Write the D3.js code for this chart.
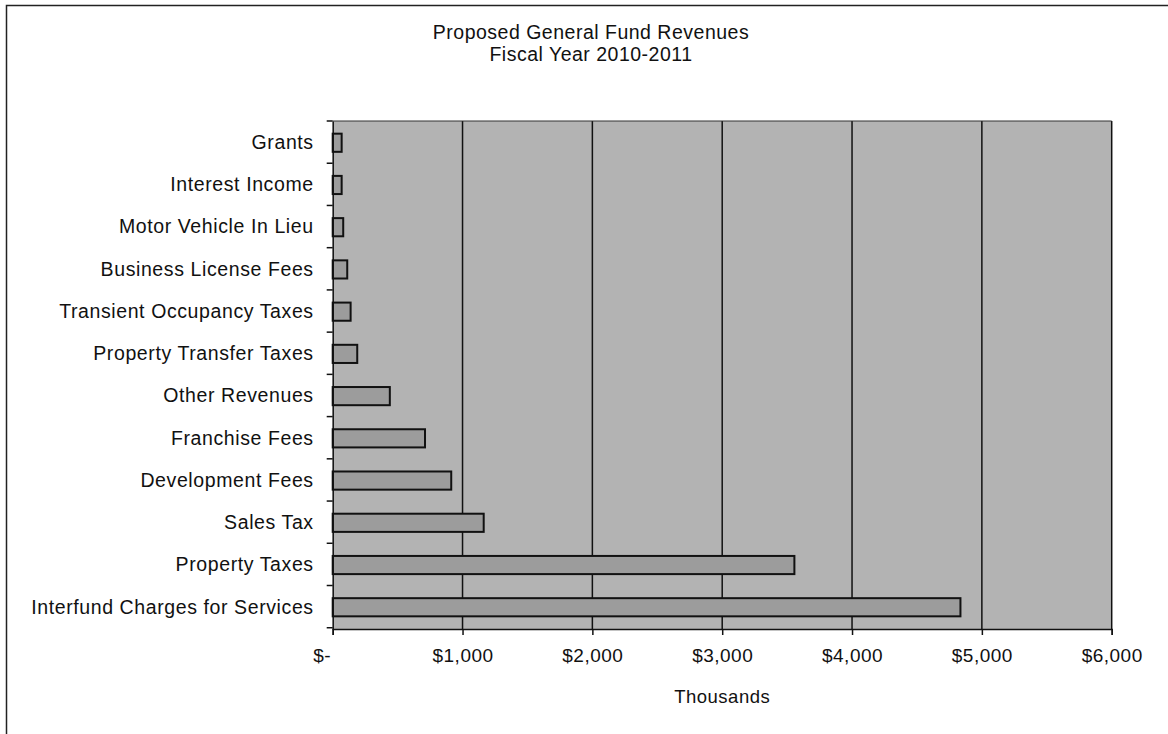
<!DOCTYPE html>
<html>
<head>
<meta charset="utf-8">
<script src="https://cdn.jsdelivr.net/npm/d3@7"></script>
<style>
  body { margin: 0; background: #fff; }
  text { font-family: "Liberation Sans", Arial, sans-serif; fill: #111; }
</style>
</head>
<body>
<div class="vizcontainer"></div>
<script>
// categories top to bottom, values in thousands of dollars
const categories = [
  "Grants", "Interest Income", "Motor Vehicle In Lieu", "Business License Fees",
  "Transient Occupancy Taxes", "Property Transfer Taxes", "Other Revenues",
  "Franchise Fees", "Development Fees", "Sales Tax", "Property Taxes",
  "Interfund Charges for Services"
];
const revenues = [69, 69, 81, 112, 138, 189, 440, 711, 913, 1163, 3556, 4835];
const xTicks = [0, 1000, 2000, 3000, 4000, 5000, 6000];
const titleLines = ["Proposed General Fund Revenues", "Fiscal Year 2010-2011"];
const xTitle = "Thousands";

const W = 1168, H = 734;
const plot = { left: 332.7, right: 1111.7, top: 121, bottom: 629 };

var svg = d3.select(".vizcontainer")
  .append("svg")
  .attr("width", W)
  .attr("height", H);

// outer frame (left + top edges visible in the scan)
svg.append("path")
  .attr("d", "M6.5," + H + "V5.5H" + W)
  .attr("fill", "none")
  .attr("stroke", "#222")
  .attr("stroke-width", 1.5);

var x = d3.scaleLinear()
  .domain([0, 6000])
  .range([plot.left, plot.right]);

var y = d3.scaleBand()
  .domain(categories)
  .range([plot.top, plot.bottom])
  .paddingInner(0.57)
  .paddingOuter(0.3);

// plot background
svg.append("rect")
  .attr("x", plot.left)
  .attr("y", plot.top)
  .attr("width", plot.right - plot.left)
  .attr("height", plot.bottom - plot.top)
  .attr("fill", "#b3b3b3");

// vertical gridlines
svg.append("g")
  .selectAll("line")
  .data(xTicks.slice(1))
  .enter()
  .append("line")
  .attr("x1", d => x(d))
  .attr("x2", d => x(d))
  .attr("y1", plot.top)
  .attr("y2", plot.bottom)
  .attr("stroke", "#111")
  .attr("stroke-width", 1.5);

svg.append("line")
  .attr("x1", plot.left).attr("x2", plot.right)
  .attr("y1", plot.top).attr("y2", plot.top)
  .attr("stroke", "#333").attr("stroke-width", 1);

// bars
svg.append("g")
  .selectAll("rect")
  .data(categories)
  .enter()
  .append("rect")
  .attr("x", x(0))
  .attr("y", d => y(d))
  .attr("width", (d, i) => x(revenues[i]) - x(0))
  .attr("height", y.bandwidth())
  .attr("fill", "#9c9c9c")
  .attr("stroke", "#111")
  .attr("stroke-width", 2);

// y axis
var yAxis = svg.append("g")
  .attr("transform", "translate(" + plot.left + ",0)")
  .call(d3.axisLeft(y).tickSize(0).tickPadding(19));
yAxis.select(".domain").attr("stroke", "#111").attr("stroke-width", 1.5);
yAxis.selectAll("text")
  .attr("font-size", 19.5)
  .attr("letter-spacing", 0.6)
  .style("font-family", "'Liberation Sans', Arial, sans-serif")
  .attr("fill", "#111");

// category separators (tick marks between bands)
var step = y.step();
svg.append("g")
  .selectAll("line")
  .data(d3.range(categories.length + 1))
  .enter()
  .append("line")
  .attr("x1", plot.left - 6)
  .attr("x2", plot.left)
  .attr("y1", i => plot.top + i * step)
  .attr("y2", i => plot.top + i * step)
  .attr("stroke", "#111")
  .attr("stroke-width", 1.5);

// x axis
var xAxis = svg.append("g")
  .attr("transform", "translate(0," + plot.bottom + ")")
  .call(d3.axisBottom(x)
    .tickValues(xTicks)
    .tickSize(6)
    .tickPadding(14)
    .tickFormat(d => d === 0 ? "$-" : "$" + d3.format(",")(d)));
xAxis.selectAll("line, .domain").attr("stroke", "#111").attr("stroke-width", 1.5);
xAxis.selectAll("text")
  .attr("font-size", 19)
  .attr("letter-spacing", 0.5)
  .style("font-family", "'Liberation Sans', Arial, sans-serif")
  .attr("fill", "#111")
  .attr("dx", d => d === 0 ? -11 : 0);

// axis title
svg.append("text")
  .attr("x", (plot.left + plot.right) / 2)
  .attr("y", 703)
  .attr("text-anchor", "middle")
  .attr("font-size", 18.5)
  .attr("letter-spacing", 0.5)
  .text(xTitle);

// chart title
svg.selectAll(".title")
  .data(titleLines)
  .enter()
  .append("text")
  .attr("class", "title")
  .attr("x", 591)
  .attr("y", (d, i) => 39 + i * 22)
  .attr("text-anchor", "middle")
  .attr("font-size", 19.5)
  .attr("letter-spacing", 0.5)
  .text(d => d);
</script>
</body>
</html>
